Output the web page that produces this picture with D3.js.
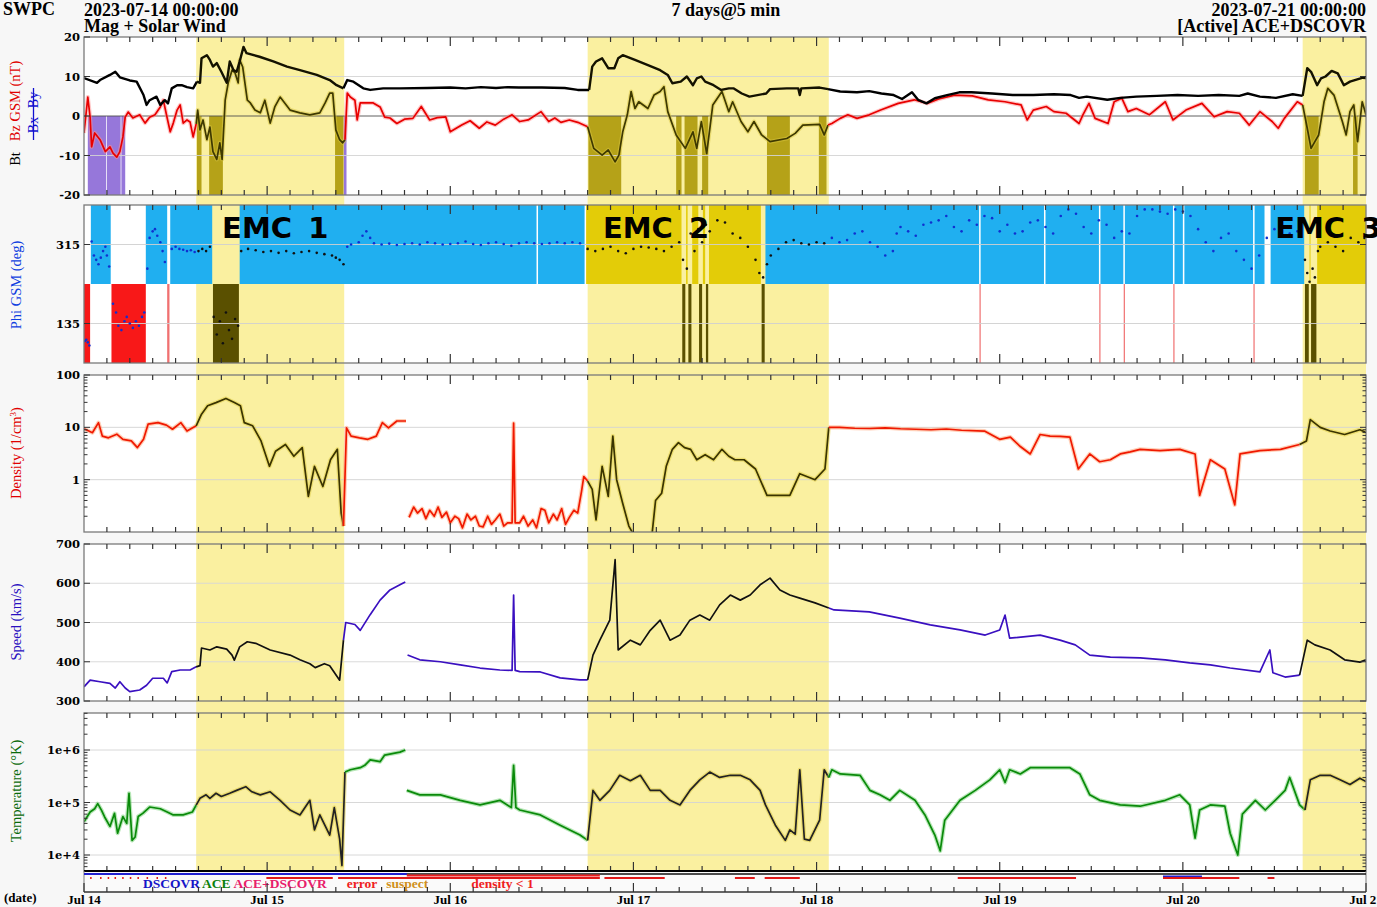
<!DOCTYPE html>
<html><head><meta charset="utf-8">
<script src="https://cdn.jsdelivr.net/npm/d3@7"></script>
<style>body{margin:0;background:#f7f7f7}svg{display:block}</style>
</head><body><svg id="c" width="1377" height="907"></svg>
<script>
// ---------------- DATA (hours since 2023-07-14 00:00) ----------------
const emcIntervals = [[14.7,34.1],[66.0,97.6],[159.7,168]];
const emcLabels = ["EMC 1","EMC 2","EMC 3"];
const emcLabelHours = [18.1, 68.0, 156.1];
const dayLabels = ["Jul 14","Jul 15","Jul 16","Jul 17","Jul 18","Jul 19","Jul 20","Jul 21"];
const magTicks = [-20,-10,0,10,20];
const phiTicks = [135,315];
const densityTicks = [1,10,100];
const speedTicks = [300,400,500,600,700];
const tempTicks = [1e4,1e5,1e6];
const tempTickLabels = ["1e+4","1e+5","1e+6"];

const btData = [[0,9.6],[1.7,8.4],[2.1,9.1],[3.4,10.4],[4.1,11.2],[4.7,9.8],[6.0,9.0],[6.9,8.7],[7.8,5.3],[8.2,2.8],[8.6,4.0],[9.5,4.9],[10.0,2.8],[10.6,4.0],[11.0,3.2],[11.5,7.0],[12.2,7.8],[12.8,7.8],[13.5,7.3],[14.3,7.0],[14.8,8.7],[15.2,8.4],[15.4,14.6],[16.1,15.4],[16.5,14.2],[16.9,12.5],[17.4,13.4],[18.0,11.2],[18.7,8.4],[19.1,13.8],[19.6,11.6],[20.0,11.2],[20.4,13.8],[20.9,17.5],[21.3,15.9],[23.0,15.0],[24.8,13.8],[26.6,12.5],[28.3,11.6],[30.5,10.4],[32.2,9.1],[33.1,7.8],[34.0,7.0],[34.5,9.1],[35.3,8.7],[36.6,7.0],[37.5,6.6],[39.2,7.0],[41.4,7.0],[45,7.1],[48,7.2],[50,7.0],[52,7.3],[54,7.1],[55.5,7.3],[57,7.2],[60,7.2],[63,7.1],[64.7,6.6],[66.2,6.6],[66.6,12.5],[67.1,13.8],[67.9,14.6],[68.7,12.1],[69.5,12.1],[70.0,14.6],[70.6,15.4],[72.2,14.2],[73.9,12.9],[75.5,11.6],[76.5,10.4],[77.1,8.3],[78.2,8.7],[79.0,10.0],[79.8,7.8],[80.3,9.5],[80.9,10.0],[81.4,8.7],[82.5,7.8],[83.5,6.6],[84.5,7.0],[85.1,7.0],[86.2,5.7],[87.2,4.9],[89.4,5.7],[89.9,6.8],[92.1,7.0],[93.6,7.0],[93.8,5.3],[94.0,7.0],[96.4,7.2],[97.5,6.8],[99.1,6.2],[101.3,6.0],[102.9,6.3],[104.5,5.7],[106.1,5.3],[107.2,4.3],[108.5,6.0],[109.3,4.1],[110.4,3.2],[111.5,4.5],[113.1,5.3],[114.7,6.0],[116.3,6.0],[119.0,5.7],[121.7,5.3],[124.4,5.3],[127.1,5.5],[129.3,5.3],[130.4,4.6],[131.4,4.9],[134.1,4.1],[135.8,4.6],[137.9,4.9],[140.6,5.1],[143.3,5.3],[146.0,5.1],[148.7,5.3],[151.4,5.1],[152.5,5.7],[154.1,4.9],[156.2,4.6],[158.4,5.5],[159.7,5.1],[160.3,12.1],[160.8,11.2],[161.6,7.8],[162.1,9.5],[162.7,10.0],[163.5,11.4],[164.3,10.8],[165.1,7.8],[165.9,8.7],[167.6,9.7],[168,9.6]];

const bzData = [[0,-4.3],[0.5,4.8],[0.8,-0.3],[1.0,-7.8],[1.4,-4.3],[2.1,-6],[2.8,-9],[3.4,-7.8],[3.8,-9.4],[4.3,-10.4],[4.7,-9],[5.1,-5.3],[5.4,-0.3],[5.8,1],[6.4,-0.5],[7.3,0.3],[8.0,-1.8],[8.6,-0.3],[9.3,0.3],[10.0,2.3],[10.4,4],[10.9,-0.5],[11.3,-4],[11.7,-1.8],[12.2,1.5],[12.6,2.8],[13.0,-1.8],[13.5,-1],[13.9,-1.5],[14.3,-5.3],[14.7,-2],[14.9,1.5],[15.2,-3.5],[15.6,-1],[16.1,-6],[16.5,-2.8],[16.9,-9],[17.4,-11],[17.8,-6.8],[18.1,-11],[18.5,4],[18.9,8.4],[19.4,11.6],[19.8,10.9],[20.2,8.4],[20.4,14.2],[20.8,12.4],[21.4,4],[21.8,3.3],[22.4,1.5],[23.1,0.8],[23.7,4],[24.4,-1.8],[25.0,2.3],[25.7,4.8],[26.3,3.3],[27.0,1.5],[28.3,0.8],[29.6,0.3],[30.9,0.8],[31.6,3.3],[32.2,5.8],[32.6,5.8],[33.0,-3.5],[33.5,-6],[33.9,-6.8],[34.2,-6],[34.5,5.8],[34.9,4.8],[35.5,4],[35.8,-1],[36.2,3.3],[37.1,3.3],[37.9,3.3],[38.8,2.3],[39.4,-0.3],[40.1,-0.5],[41.0,-1.9],[42.0,-0.8],[43.1,-0.6],[44.2,2.4],[45.3,-1],[46.3,-0.4],[47.4,-0.2],[48.0,-4],[49.5,-2.3],[50.6,-1.2],[51.8,-3.1],[52.8,-1.5],[53.9,-2.3],[55.0,-0.8],[56.1,0.3],[57.1,-1.4],[58.2,-1],[59.9,1.1],[60.9,-1.4],[61.7,-0.5],[62.5,-1.6],[63.6,-1.0],[64.7,-1.6],[66.0,-2.7],[66.8,-8.2],[67.9,-9.9],[68.7,-8.6],[69.6,-11.6],[70.1,-9.9],[70.6,-4],[71.2,0.3],[71.7,6.2],[72.2,1.9],[72.7,3.6],[73.9,1.9],[74.7,5.3],[75.5,6.2],[76.0,7.4],[76.5,1.1],[77.6,-4.8],[78.8,-8.2],[79.8,-4],[80.3,-8.2],[80.9,-1.4],[81.6,-9.5],[82.4,2.8],[83.6,6.2],[84.5,1.1],[85.0,3.6],[86.1,-1.4],[87.0,-4],[87.8,-1.4],[88.8,-4.8],[89.9,-6.5],[92.1,-5.7],[93.2,-4.4],[94.2,-2.3],[96.4,-2.1],[97.0,-4.8],[97.5,-2.3],[98.0,-1.9],[99.1,-0.6],[100.1,0.3],[101.3,-0.6],[102.9,0.3],[104.4,1.5],[106.7,3.2],[108.8,4.1],[110.5,3.2],[112.0,4.3],[114.1,5.3],[116.4,5.1],[118.5,4.1],[120.7,3.6],[122.8,2.8],[123.6,-1],[124.4,1.5],[126.1,2.4],[127.1,1.1],[128.7,0.7],[130.4,-1.9],[130.9,0.3],[131.7,3.2],[132.5,-0.6],[134.2,-1.9],[135.0,3.6],[136.0,4.5],[136.8,1.1],[137.9,1.9],[139.6,0.3],[141.7,3.6],[142.7,-1],[144.4,1.5],[146.5,3.2],[148.1,-0.2],[149.8,1.1],[151.4,0.7],[152.7,-2.3],[154.1,1.1],[155.7,-1.4],[156.5,-3.1],[157.3,-0.6],[159.0,3.6],[159.7,2.8],[160.3,-3.1],[160.8,-8.2],[161.3,-6.5],[161.8,-4.8],[162.5,3.6],[163.0,7],[163.8,5.3],[164.9,-1.4],[165.4,-4.8],[165.9,1.1],[166.4,2.8],[166.9,-6.5],[167.5,3.6],[168,0.3]];

const bzSouthBands = [[0.5,2.9],[3.0,4.8],[4.9,5.4],[14.8,15.4],[16.4,18.2],[32.9,34.0],[34.05,34.4],[66.1,70.4],[77.6,78.3],[78.7,80.4],[81.0,81.8],[89.5,92.5],[96.3,97.3],[160.0,161.8],[166.3,166.9]];

const phiAway = [[0.9,3.5],[8.1,10.9],[11.3,16.8],[20.4,59.3],[59.5,65.6],[65.8,78.3],[78.9,79.1],[79.7,80.5],[81.1,81.4],[81.9,88.7],[89.3,117.3],[117.5,125.8],[126.0,133.0],[133.2,136.2],[136.4,142.7],[142.9,144.0],[144.2,153.2],[153.4,154.7],[155.5,159.9],[160.6,160.7],[161.6,168]];
const phiToward = [[0,0.8],[3.6,8.1],[10.9,11.2],[16.9,20.3],[78.4,78.8],[79.2,79.6],[80.6,81.0],[81.5,81.8],[88.8,89.2],[117.35,117.45],[133.05,133.15],[136.25,136.35],[142.75,142.85],[153.25,153.35],[160.0,160.5],[160.8,161.5]];

const phiData = [[0.1,95],[0.3,98],[0.5,92],[0.7,85],[1.0,322],[1.3,290],[1.6,280],[1.9,270],[2.2,285],[2.5,300],[2.8,310],[3.0,290],[3.3,265],[3.8,180],[4.2,160],[4.5,130],[4.9,120],[5.3,140],[5.6,150],[6.0,135],[6.4,125],[6.8,140],[7.2,130],[7.6,150],[7.9,160],[8.3,260],[8.6,330],[9.0,345],[9.3,350],[9.6,335],[10.0,320],[10.3,300],[10.6,275],[11.5,305],[12.0,310],[12.5,305],[13.0,303],[13.5,300],[14.0,302],[14.5,298],[15,300],[15.5,305],[16,300],[16.5,310],[17.0,150],[17.4,110],[17.8,140],[18.2,90],[18.6,160],[19.0,120],[19.4,100],[19.8,145],[20.2,130],[20.6,300],[21.5,305],[22.5,302],[23.5,298],[24.5,300],[25.5,296],[26.5,300],[27.5,295],[28.5,298],[29.5,300],[30.5,296],[31.5,293],[32.5,290],[33.0,285],[33.5,280],[34.0,270],[34.5,310],[35,315],[36,320],[36.5,335],[37,345],[37.5,330],[38,318],[39,315],[40,317],[41,314],[42,316],[43,318],[44,315],[45,320],[46,318],[47,315],[48,316],[49,318],[50,322],[51,316],[52,314],[53,318],[54,320],[55,316],[56,312],[57,318],[58,320],[59,318],[60,316],[61,318],[62,320],[63,318],[64,320],[65,318],[66,305],[67,300],[68,305],[69,310],[70,300],[71,295],[72,305],[73,310],[74,308],[75,305],[76,300],[77,310],[78,320],[78.5,280],[79,260],[79.5,340],[80,300],[80.5,350],[81,320],[81.5,360],[82,345],[83,370],[84,365],[85,340],[86,330],[87,310],[88,280],[88.5,250],[89,240],[89.5,270],[90,290],[91,305],[92,320],[93,325],[94,318],[95,315],[96,320],[97,318],[98,330],[99,320],[100,325],[101,340],[102,345],[103,320],[104,310],[105,290],[106,300],[106.5,340],[107,355],[108,345],[109,335],[110,360],[111,365],[112,370],[113,380],[114,355],[115,345],[116,370],[117,360],[118,380],[119,375],[120,345],[121,360],[122,340],[123,345],[124,365],[125,370],[126,355],[127,340],[128,380],[129,395],[130,385],[131,355],[132,340],[133,370],[134,360],[135,330],[136,345],[137,340],[138,380],[139,395],[140,395],[141,390],[142,385],[143,395],[144,390],[145,380],[146,350],[147,320],[148,300],[149,330],[150,340],[151,300],[152,280],[153,260],[154,290],[155,330],[156,350],[157,355],[158,340],[159,345],[160,280],[160.3,250],[160.6,230],[161,260],[161.3,240],[161.7,300],[162,310],[163,320],[164,310],[165,300],[166,330],[167,320],[167.8,330]];

const densityData = [[0,9.4],[0.5,8.7],[1.1,7.9],[1.9,12.3],[2.4,6.8],[3.2,6.3],[4.3,7.4],[5.1,5.9],[6.2,5.5],[7.0,4.1],[7.8,5.9],[8.4,11.5],[9.7,12.3],[10.8,11.0],[11.6,9.2],[12.7,12.3],[13.5,8.5],[14.7,10.7],[15.4,17.8],[16.2,25.9],[17.3,29.7],[18.6,35.6],[19.7,29.7],[20.5,25.9],[21.0,12.3],[22.1,10.7],[23.2,5.5],[24.3,1.8],[25.1,3.5],[26.4,4.7],[27.5,2.8],[28.6,4.1],[29.4,0.48],[30.2,1.8],[31.3,0.74],[32.3,2.4],[33.2,3.8],[33.7,0.23],[34.0,0.13],[34.4,9.8],[35.0,6.8],[36.1,6.3],[37.2,5.9],[38.3,6.8],[39.1,12.3],[39.9,9.8],[41.0,13.2],[42.2,13.2],[42.25,null],[42.6,0.19],[43.2,0.3],[43.7,0.23],[44.3,0.28],[44.8,0.18],[45.3,0.26],[45.9,0.2],[46.4,0.3],[46.9,0.19],[47.5,0.24],[48.0,0.15],[48.6,0.2],[49.1,0.18],[49.6,0.12],[50.2,0.22],[50.7,0.17],[51.3,0.2],[51.8,0.13],[52.3,0.125],[52.9,0.2],[53.4,0.14],[53.9,0.17],[54.5,0.22],[55.0,0.13],[55.5,0.15],[56.1,0.15],[56.3,12],[56.5,0.15],[57.1,0.15],[57.6,0.2],[58.2,0.13],[58.8,0.17],[59.3,0.12],[59.9,0.28],[60.4,0.26],[60.9,0.15],[61.5,0.22],[62.0,0.17],[62.6,0.28],[63.1,0.14],[63.6,0.19],[64.2,0.26],[64.7,0.23],[65.2,0.6],[65.5,1.15],[66.0,0.94],[66.6,0.65],[67.1,0.17],[67.9,1.8],[68.7,0.48],[69.3,6.8],[69.8,1.0],[70.6,0.35],[71.4,0.13],[72.2,0.08],[74.4,0.08],[74.9,0.4],[75.7,0.55],[76.3,1.8],[77.1,3.8],[77.9,5.1],[78.7,4.1],[79.5,3.8],[80.3,2.4],[81.4,3.0],[82.5,2.4],[83.6,3.8],[84.5,2.8],[85.3,2.4],[86.5,2.4],[88.0,1.6],[89.5,0.5],[91.0,0.5],[92.5,0.5],[93.8,1.3],[95.8,1.0],[97.1,1.6],[97.6,10],[99,10],[101,9.6],[103,9.5],[105,9.8],[107,9.4],[109,9.2],[111,9.0],[113,9.3],[115,8.8],[118,8.5],[120,5.9],[121.4,6.5],[122.7,4.3],[124.0,3.1],[125.3,7.3],[126.6,6.8],[127.9,6.7],[129.2,6.5],[130.3,1.6],[131.8,3.1],[133.1,2.2],[134.5,2.4],[135.8,3.1],[137.1,3.4],[138.4,3.8],[141.0,3.6],[143.6,3.8],[145.6,3.1],[146.2,0.5],[147.6,2.4],[149.5,1.6],[150.8,0.33],[151.5,3.1],[154.1,3.6],[156.8,3.8],[159.3,4.7],[160.2,5.5],[160.7,14],[162.0,10],[163.3,8.5],[165.2,7.3],[167.2,9],[168,8]];

const speedData = [[0,336],[0.8,353],[2.1,349],[3.4,345],[4.1,333],[4.7,349],[5.4,333],[6.0,324],[7.3,328],[8.2,340],[9.0,358],[10.4,358],[10.9,346],[11.5,375],[12.6,379],[13.9,379],[14.7,387],[15.2,390],[15.4,435],[16.5,430],[17.4,438],[18.7,432],[19.4,417],[19.7,404],[20.4,438],[21.4,451],[22.5,447],[24.4,430],[27.0,417],[28.3,405],[29.6,395],[30.3,385],[31.5,395],[32.2,390],[33.5,353],[34.0,455],[34.3,500],[35.5,495],[36.2,480],[37.5,520],[38.8,557],[40.1,583],[41.4,596],[42.1,603],[42.2,null],[42.4,417],[44.0,405],[46.7,400],[49.3,392],[51.9,384],[54.5,379],[56.1,378],[56.3,570],[56.5,378],[57.1,375],[59.8,374],[62.4,359],[65.0,354],[66.0,354],[66.7,417],[67.6,455],[68.9,506],[69.6,660],[70.0,430],[71.6,455],[72.9,443],[74.2,480],[75.5,506],[76.8,455],[78.1,468],[79.4,506],[80.7,519],[82.0,506],[83.3,545],[84.7,570],[86.0,557],[87.3,570],[88.6,596],[89.9,613],[91.2,583],[92.5,570],[93.8,562],[95.8,550],[97.6,537],[98.3,532],[102.9,527],[106.9,511],[110.9,494],[114.8,481],[118.1,468],[120.0,481],[120.7,519],[121.3,460],[125.3,468],[127.9,455],[129.9,443],[131.8,417],[134.5,412],[138.4,410],[141.7,405],[144.9,397],[147.6,392],[150.2,384],[154.1,374],[155.4,430],[155.8,372],[157.4,361],[159.3,366],[160.3,455],[161.3,443],[163.3,430],[165.2,405],[167.2,399],[168,405]];

const tempData = [[0,4.3e4],[0.8,6.6e4],[1.4,7.6e4],[1.8,9.5e4],[2.3,7.1e4],[2.7,5.3e4],[3.4,3.5e4],[4.0,6.2e4],[4.4,2.6e4],[5.1,5.4e4],[5.6,4.0e4],[5.9,1.5e5],[6.3,1.9e4],[6.7,2.2e4],[7.1,5.4e4],[7.7,6.2e4],[8.6,8.2e4],[10.0,7.6e4],[10.9,6.6e4],[11.7,5.8e4],[13.0,5.8e4],[14.2,6.6e4],[14.7,8.9e4],[15.2,1.2e5],[16.0,1.4e5],[16.5,1.2e5],[17.3,1.5e5],[18.0,1.3e5],[19.1,1.5e5],[20.0,1.7e5],[21.2,2.0e5],[22.0,1.6e5],[23.1,1.4e5],[24.4,1.6e5],[25.7,1.1e5],[27.0,7.2e4],[28.3,5.8e4],[29.6,1.1e5],[30.2,3.0e4],[30.9,5.8e4],[32.2,2.4e4],[32.8,8.0e4],[33.5,2.0e4],[33.8,6.3e3],[34.2,3.8e5],[34.9,4.2e5],[36.2,4.6e5],[36.8,5.1e5],[37.5,6.5e5],[38.8,6.0e5],[39.4,8.0e5],[41.4,9.1e5],[42.1,1.0e6],[42.2,null],[42.3,1.7e5],[44.0,1.4e5],[46.7,1.4e5],[49.3,1.1e5],[51.9,9.0e4],[54.5,1.1e5],[56.0,8.0e4],[56.3,5.1e5],[56.6,8.0e4],[57.1,7.2e4],[59.8,5.8e4],[62.4,3.7e4],[65.0,2.4e4],[66.0,1.9e4],[66.7,1.7e5],[67.6,1.1e5],[68.9,1.7e5],[70.2,3.3e5],[71.6,2.6e5],[72.9,3.3e5],[74.2,1.7e5],[75.5,1.7e5],[76.8,1.1e5],[78.1,9.0e4],[79.4,1.7e5],[80.7,2.7e5],[82.0,3.8e5],[83.3,3.0e5],[84.7,3.3e5],[86.0,3.3e5],[87.3,2.7e5],[88.6,1.7e5],[89.3,9.0e4],[90.6,3.7e4],[91.9,1.9e4],[92.5,3.0e4],[93.2,2.5e4],[93.8,4.2e5],[94.4,2.0e4],[95.1,1.9e4],[96.4,4.6e4],[97.0,4.2e5],[97.6,3.0e5],[98.0,4.2e5],[99.1,3.5e5],[101.7,3.3e5],[103.0,1.7e5],[104.3,1.4e5],[105.6,1.1e5],[106.9,1.7e5],[108.9,1.1e5],[110.2,5.8e4],[111.5,2.4e4],[112.2,1.2e4],[112.8,4.6e4],[114.8,1.1e5],[116.8,1.7e5],[118.7,2.7e5],[120.0,4.2e5],[120.7,2.4e5],[121.3,4.2e5],[122.7,3.5e5],[124.0,4.6e5],[125.3,4.6e5],[127.9,4.6e5],[129.2,4.6e5],[130.5,3.5e5],[131.8,1.4e5],[133.1,1.1e5],[135.8,9.0e4],[138.4,8.5e4],[141.7,1.1e5],[143.6,1.4e5],[144.9,9.0e4],[145.6,2.1e4],[146.2,7.2e4],[147.6,9.0e4],[149.5,8.5e4],[150.2,2.6e4],[151.2,1.0e4],[151.8,6.0e4],[153.5,1.1e5],[154.8,7.2e4],[156.1,1.1e5],[157.4,1.7e5],[158.0,3.0e5],[159.3,9.0e4],[160.0,7.2e4],[160.7,2.7e5],[162.0,3.3e5],[163.3,3.3e5],[164.6,2.7e5],[165.9,2.2e5],[167.2,2.9e5],[168,2.5e5]];

// source strip
const sourceDscovr = [[0,42.3],[141.4,146.5]];
const sourceDensityLow = [[42.3,67.6]];
const flagSegments = [[0.8,1.0],[2.1,2.3],[3.1,3.3],[4.0,4.2],[5.0,5.2],[6.0,6.2],[7.0,7.2],[8.2,8.4],[9.5,9.7],[10.6,10.8],[23.9,32.6],[33.3,67.6],[68.2,76.1],[85.3,87.9],[89.2,93.8],[114.5,130.0],[141.4,151.4],[155.1,156.0]];
const legendItems = ["DSCOVR","ACE","ACE+DSCOVR","error","suspect","density < 1"];
const legendColors = ["#1515c8","#0a800a","#e8206a","#f02020","#d09020","#f02020"];

// ---------------- LAYOUT ----------------
const W=1377,H=907, L=84, R=1366;
const svg=d3.select('#c');
const x=d3.scaleLinear().domain([0,168]).range([L,R]);
const P = {
  mag:{t:37,b:195}, phi:{t:205,b:363}, den:{t:375,b:532}, spd:{t:544,b:701}, tmp:{t:713,b:871}
};
const yMag=d3.scaleLinear().domain([-20,20]).range([P.mag.b,P.mag.t]);
const yPhi=d3.scaleLinear().domain([45,405]).range([P.phi.b,P.phi.t]);
const yDen=d3.scaleLog().domain([0.1,100]).range([P.den.b,P.den.t]);
const ySpd=d3.scaleLinear().domain([300,700]).range([P.spd.b,P.spd.t]);
const yTmp=d3.scaleLog().domain([1e4,1e6]).range([855,750]);

const EMC_BG='#faf0a0', GOLD='#e3cc08', OLIVE='#5a5000';
const serif='"Liberation Serif","Times New Roman",serif';
const tickFont='"DejaVu Serif",serif';

svg.append('rect').attr('width',W).attr('height',H).attr('fill','#f7f7f7');
Object.values(P).forEach(p=>svg.append('rect').attr('x',L).attr('y',p.t).attr('width',R-L).attr('height',p.b-p.t).attr('fill','#fff'));
svg.append('rect').attr('x',L).attr('y',P.tmp.b).attr('width',R-L).attr('height',21).attr('fill','#fafafa');

emcIntervals.forEach(([a,b])=>svg.append('rect').attr('x',x(a)).attr('y',P.mag.t).attr('width',x(b)-x(a)).attr('height',P.tmp.b-P.mag.t).attr('fill',EMC_BG));

function inEMC(h){return emcIntervals.some(([a,b])=>h>=a&&h<=b);}
const defs=svg.append('defs');
function clipFor(name,p){
  defs.append('clipPath').attr('id','clip-'+name).append('rect').attr('x',L).attr('y',p.t).attr('width',R-L).attr('height',p.b-p.t);
  return svg.append('g').attr('clip-path','url(#clip-'+name+')');
}
const gMag=clipFor('mag',P.mag), gPhi=clipFor('phi',P.phi), gDen=clipFor('den',P.den), gSpd=clipFor('spd',P.spd), gTmp=clipFor('tmp',P.tmp);

bzSouthBands.forEach(([a,b])=>{
  const e=inEMC((a+b)/2);
  gMag.append('rect').attr('x',x(a)).attr('width',Math.max(1,x(b)-x(a))).attr('y',yMag(0)).attr('height',yMag(-20)-yMag(0))
    .attr('fill',e?'#a89400':'#9070d8').attr('opacity',e?0.85:0.95);
});
phiAway.forEach(([a,b])=>{
  const e=inEMC((a+b)/2);
  gPhi.append('rect').attr('x',x(a)).attr('width',Math.max(1,x(b)-x(a))).attr('y',yPhi(405)).attr('height',yPhi(225)-yPhi(405)).attr('fill',e?GOLD:'#20aff0');
});
phiToward.forEach(([a,b])=>{
  const e=inEMC((a+b)/2);
  gPhi.append('rect').attr('x',x(a)).attr('width',Math.max(1.2,x(b)-x(a))).attr('y',yPhi(225)).attr('height',yPhi(45)-yPhi(225)).attr('fill',e?OLIVE:(b-a<0.5?'#f07070':'#f81818'));
});

function grid(g,vals,y,color){vals.forEach(v=>g.append('line').attr('x1',L).attr('x2',R).attr('y1',y(v)).attr('y2',y(v)).attr('stroke',color).attr('stroke-width',1).attr('opacity',0.9));}
grid(gMag,[-10,10],yMag,'#d4d4d4'); grid(gMag,[0],yMag,'#505050');
grid(gPhi,phiTicks,yPhi,'#d0d0d0');
grid(gDen,[1,10],yDen,'#d4d4d4');
grid(gSpd,[400,500,600],ySpd,'#d8d8d8');
grid(gTmp,tempTicks,yTmp,'#d4d4d4');

function runs(data){
  const out=[];let cur=null;
  for(const d of data){
    if(d[1]==null){cur=null;continue;}
    if(!cur){cur={emc:inEMC(d[0]),pts:[d]};out.push(cur);continue;}
    const prev=cur.pts[cur.pts.length-1];
    const m=inEMC((prev[0]+d[0])/2);
    if(m===cur.emc)cur.pts.push(d);else{cur={emc:m,pts:[prev,d]};out.push(cur);}
  }
  return out;
}
function drawLine(g,data,y,color,emcColor,w,halo,emcHalo){
  const line=d3.line().x(d=>x(d[0])).y(d=>y(d[1]));
  runs(data).forEach(r=>{
    const hc=r.emc?emcHalo:halo;
    if(hc) g.append('path').attr('d',line(r.pts)).attr('fill','none').attr('stroke',hc).attr('stroke-width',w+2.4).attr('stroke-linejoin','round').attr('opacity',0.5);
    g.append('path').attr('d',line(r.pts)).attr('fill','none').attr('stroke',r.emc?emcColor:color).attr('stroke-width',w).attr('stroke-linejoin','round');
  });
}
drawLine(gMag,bzData,yMag,'#e80000','#3e3900',1.7,'#ff9090','#d8c440');
drawLine(gMag,btData,yMag,'#000','#141200',2.4,null,null);
phiData.forEach(d=>gPhi.append('circle').attr('cx',x(d[0])).attr('cy',yPhi(d[1])).attr('r',1.3).attr('fill',inEMC(d[0])?'#111':'#1030d0'));
drawLine(gDen,densityData,yDen,'#f01800','#3a3400',1.7,'#ffa070','#e0cc40');
drawLine(gSpd,speedData,ySpd,'#3a10c0','#111',1.7,null,null);
drawLine(gTmp,tempData,yTmp,'#0a8a0a','#222',1.7,'#70d070','#d8c440');

function frame(p,ticksLeft,y,labels,minor){
  const g=svg.append('g');
  g.append('rect').attr('x',L).attr('y',p.t).attr('width',R-L).attr('height',p.b-p.t).attr('fill','none').attr('stroke','#7a7a7a').attr('stroke-width',1.3);
  for(let h=3;h<168;h+=3){
    const major=h%24===0, len=major?9:5;
    g.append('line').attr('x1',x(h)).attr('x2',x(h)).attr('y1',p.t).attr('y2',p.t+len).attr('stroke','#333').attr('stroke-width',1.2);
    g.append('line').attr('x1',x(h)).attr('x2',x(h)).attr('y1',p.b).attr('y2',p.b-len).attr('stroke','#333').attr('stroke-width',1.2);
  }
  ticksLeft.forEach((v,i)=>{
    g.append('line').attr('x1',L).attr('x2',L+6).attr('y1',y(v)).attr('y2',y(v)).attr('stroke','#333');
    g.append('line').attr('x1',R).attr('x2',R-6).attr('y1',y(v)).attr('y2',y(v)).attr('stroke','#333');
    g.append('text').attr('x',L-4).attr('y',y(v)).attr('dy','0.36em').attr('text-anchor','end')
      .attr('font-family',tickFont).attr('font-weight','bold').attr('font-size',11.5).text(labels?labels[i]:v);
  });
  (minor||[]).forEach(v=>{
    g.append('line').attr('x1',L).attr('x2',L+3.5).attr('y1',y(v)).attr('y2',y(v)).attr('stroke','#333');
    g.append('line').attr('x1',R).attr('x2',R-3.5).attr('y1',y(v)).attr('y2',y(v)).attr('stroke','#333');
  });
}
const logMinor=(lo,hi)=>{const a=[];for(let d=lo;d<hi;d*=10)for(let k=2;k<10;k++)a.push(d*k);return a;};
frame(P.mag,magTicks,yMag);
frame(P.phi,phiTicks,yPhi);
frame(P.den,densityTicks,yDen,null,logMinor(0.1,100));
frame(P.spd,speedTicks,ySpd);
frame(P.tmp,tempTicks,yTmp,tempTickLabels,logMinor(1e4,1e6).concat([2e6,3e6,4e6,5e6,6e3,7e3,8e3,9e3]));
svg.append('line').attr('x1',L).attr('x2',R).attr('y1',P.tmp.b).attr('y2',P.tmp.b).attr('stroke','#000').attr('stroke-width',2);

const SY=892;
svg.append('line').attr('x1',L).attr('x2',L).attr('y1',P.tmp.b).attr('y2',SY).attr('stroke','#7a7a7a');
svg.append('line').attr('x1',R).attr('x2',R).attr('y1',P.tmp.b).attr('y2',SY).attr('stroke','#7a7a7a');
svg.append('line').attr('x1',L).attr('x2',R).attr('y1',874).attr('y2',874).attr('stroke','#111').attr('stroke-width',1.4);
sourceDscovr.forEach(([a,b],i)=>svg.append('line').attr('x1',x(a)).attr('x2',x(b)).attr('y1',i?876.5:874).attr('y2',i?876.5:874).attr('stroke','#2020d0').attr('stroke-width',2));
sourceDensityLow.forEach(([a,b])=>svg.append('line').attr('x1',x(a)).attr('x2',x(b)).attr('y1',875.5).attr('y2',875.5).attr('stroke','#f02020').attr('stroke-width',2));
flagSegments.forEach(([a,b])=>svg.append('line').attr('x1',x(a)).attr('x2',x(b)).attr('y1',878).attr('y2',878).attr('stroke','#e01818').attr('stroke-width',2));
let lx=143;
legendItems.forEach((t,i)=>{
  const gap=[0,2,3,20,9,43][i]; lx+=gap;
  const tx=svg.append('text').attr('x',lx).attr('y',888).attr('font-family',serif).attr('font-weight','bold').attr('font-size',13.5).attr('fill',legendColors[i]).text(t);
  lx+=tx.node().getComputedTextLength();
});
svg.append('line').attr('x1',L).attr('x2',R).attr('y1',SY).attr('y2',SY).attr('stroke','#333').attr('stroke-width',1.3);
for(let h=0;h<=168;h+=3){
  const major=h%24===0;
  svg.append('line').attr('x1',x(h)).attr('x2',x(h)).attr('y1',SY).attr('y2',SY-(major?9:5)).attr('stroke','#333').attr('stroke-width',1.2);
}
dayLabels.forEach((t,i)=>svg.append('text').attr('x',x(i*24)).attr('y',904).attr('text-anchor','middle').attr('font-family',serif).attr('font-weight','bold').attr('font-size',13).text(t));
svg.append('text').attr('x',4).attr('y',902).attr('font-family',serif).attr('font-weight','bold').attr('font-size',13).text('(date)');

emcLabels.forEach((t,i)=>svg.append('text').attr('x',x(emcLabelHours[i])).attr('y',238).attr('font-family','"DejaVu Sans",sans-serif').attr('font-weight','bold').attr('font-size',29).attr('word-spacing',6).attr('fill','#000').text(t));

const hdr=(t,xx,yy,anchor)=>svg.append('text').attr('x',xx).attr('y',yy).attr('text-anchor',anchor||'start').attr('font-family',serif).attr('font-weight','bold').attr('font-size',18).text(t);
hdr('SWPC',3,15); hdr('2023-07-14 00:00:00',L,16); hdr('Mag + Solar Wind',L,32);
hdr('7 days@5 min',726,16,'middle'); hdr('2023-07-21 00:00:00',R,16,'end'); hdr('[Active] ACE+DSCOVR',R,32,'end');

const ytitle=(t,xx,yy,color,size)=>svg.append('text').attr('transform',`translate(${xx},${yy}) rotate(-90)`).attr('text-anchor','middle').attr('font-family',serif).attr('font-size',size||14.5).attr('fill',color).text(t);
ytitle('Bt',20,159,'#000');
ytitle('Bz GSM (nT)',20,101,'#e00000');
ytitle('Bx',38,125,'#1010d0',14); ytitle('By',38,100,'#1010d0',14);
svg.append('line').attr('x1',33.5).attr('x2',33.5).attr('y1',112).attr('y2',140).attr('stroke','#1010d0').attr('stroke-width',1.3);
svg.append('line').attr('x1',33.5).attr('x2',33.5).attr('y1',88).attr('y2',112).attr('stroke','#1010d0').attr('stroke-width',1.3);
ytitle('Phi GSM (deg)',21,285,'#1040e0');
const dt=ytitle('Density (1/cm',21,453,'#e00000'); dt.append('tspan').attr('dy',-5).attr('font-size',9).text('3'); dt.append('tspan').attr('dy',5).text(')');
ytitle('Speed (km/s)',21,622,'#2a10c0');
ytitle('Temperature (°K)',21,791,'#0a6a0a');
</script></body></html>
